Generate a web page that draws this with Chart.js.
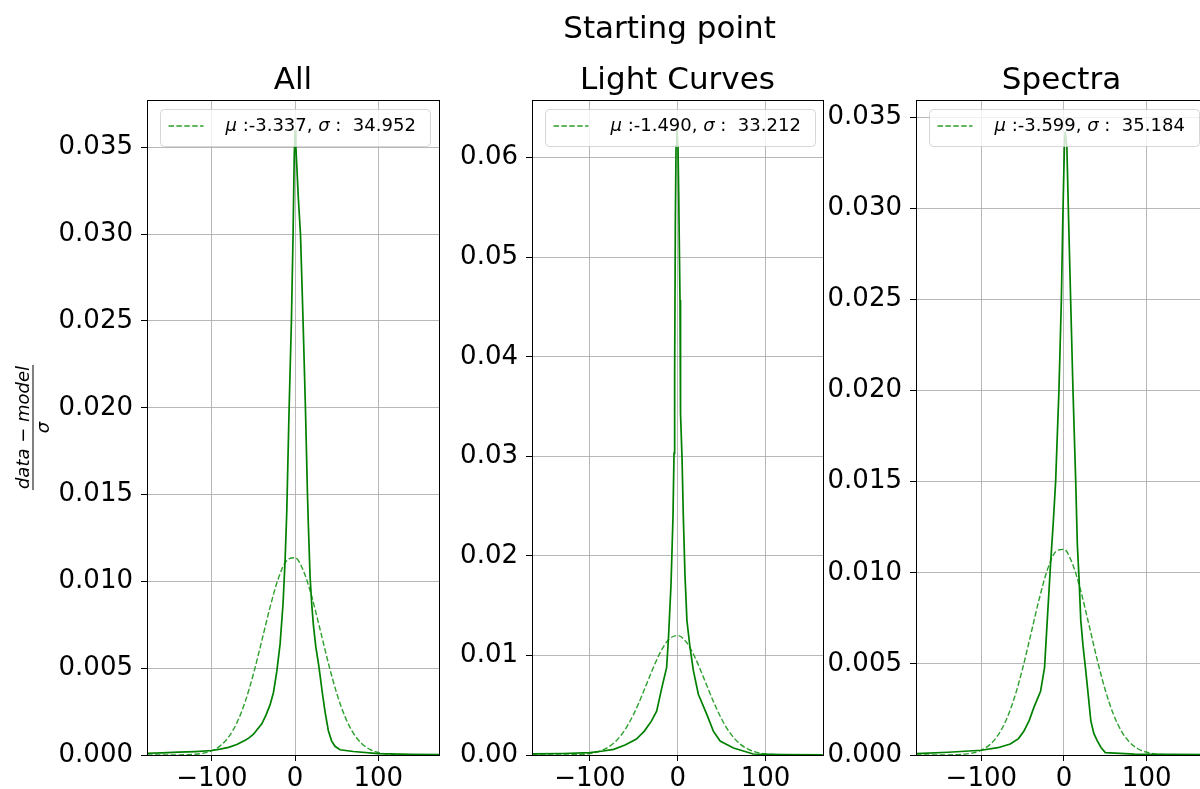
<!DOCTYPE html>
<html>
<head>
<meta charset="utf-8">
<title>Starting point</title>
<script src="https://cdn.jsdelivr.net/npm/chart.js@4.4.0/dist/chart.umd.min.js"></script>
<style>
    html, body { margin: 0; padding: 0; background: #fff; overflow: hidden; }
    #wrap { position: relative; width: 1200px; height: 789px; overflow: hidden; }
    #wrap canvas { position: absolute; left: 0; top: 0; }
</style>
</head>
<body>
<div id="wrap">
    <canvas id="panelAll" width="1220" height="789"></canvas>
    <canvas id="panelLc" width="1220" height="789"></canvas>
    <canvas id="panelSp" width="1220" height="789"></canvas>
</div>
<script>
const suptitle = 'Starting point';
const panelTitles = ['All', 'Light Curves', 'Spectra'];
const fitMu = [-3.337, -1.490, -3.599];
const fitSigma = [34.952, 33.212, 35.184];

const xTicks = [-100, 0, 100];
const yTicksAll = [0, 0.005, 0.010, 0.015, 0.020, 0.025, 0.030, 0.035];
const yTicksLc = [0, 0.01, 0.02, 0.03, 0.04, 0.05, 0.06];
const yTicksSp = [0, 0.005, 0.010, 0.015, 0.020, 0.025, 0.030, 0.035];

// residual histograms (density)
const histXAll = [-178, -160, -140, -120, -100, -90, -80, -70, -60, -55, -50, -45, -40, -35, -30, -26, -22, -18, -14.5, -12, -10, -7.2, -4.4, -2.4, -1, 0, 1, 2.5, 4, 6.5, 9.6, 12.5, 14.9, 16, 18, 20, 22, 25, 28, 30, 33, 36, 40, 44, 48, 54, 70, 100, 140, 173];
const histYAll = [0.0001, 0.00012, 0.00016, 0.0002, 0.00026, 0.00034, 0.00044, 0.0006, 0.00085, 0.001, 0.0012, 0.0015, 0.0018, 0.0023, 0.0029, 0.0036, 0.0048, 0.0064, 0.0087, 0.0112, 0.014, 0.0199, 0.025, 0.030, 0.0345, 0.036, 0.035, 0.0335, 0.032, 0.030, 0.025, 0.0199, 0.015, 0.0132, 0.0103, 0.0087, 0.0075, 0.0062, 0.0053, 0.0046, 0.0035, 0.0025, 0.0014, 0.0008, 0.0005, 0.0003, 0.0002, 0.00008, 0.00004, 0.00003];

const histXLc = [-166, -130, -100, -85, -73, -60, -47, -38, -30, -24, -18, -12.6, -10.5, -7.6, -5.4, -4.2, -3.5, -2.7, -1.9, -1, 0.3, 1.1, 2.6, 3.0, 3.4, 4.9, 6.4, 8.3, 10.5, 14, 17.8, 23.5, 33, 40.6, 48.3, 63.5, 86, 120, 165];
const histYLc = [0.00012, 0.00015, 0.00023, 0.0004, 0.00057, 0.001, 0.0016, 0.0024, 0.0034, 0.0044, 0.0068, 0.0088, 0.0118, 0.0172, 0.0239, 0.0303, 0.0384, 0.0535, 0.0612, 0.0628, 0.0612, 0.0565, 0.0457, 0.040, 0.0343, 0.0299, 0.0239, 0.018, 0.0135, 0.0108, 0.0085, 0.0061, 0.0041, 0.0024, 0.0014, 0.0007, 0.0001, 0.00004, 0.00002];

const histXSp = [-179, -140, -100, -80, -65, -55, -48.6, -42, -36.5, -28.3, -23.5, -20.2, -16.2, -12.9, -10.1, -6.1, -3.2, -1.2, 0.5, 1.5, 3.5, 5.3, 8.1, 10.9, 14.2, 16.2, 18.2, 20.3, 23, 26.4, 30, 32.4, 36, 40, 45, 50, 85, 173];
const histYSp = [0.00007, 0.00015, 0.00026, 0.0004, 0.0006, 0.0009, 0.0013, 0.0019, 0.0026, 0.0035, 0.0048, 0.0074, 0.0105, 0.0128, 0.015, 0.02, 0.0249, 0.0299, 0.0334, 0.0342, 0.0334, 0.0299, 0.0249, 0.02, 0.015, 0.0115, 0.0097, 0.0074, 0.006, 0.0046, 0.003, 0.0019, 0.0012, 0.0008, 0.0004, 0.00013, 0.00005, 0.00002];

// fitted normal curves (dashed)
const fitXAll = [-178, -170, -160, -150, -140, -130, -120, -110, -100, -90, -80, -70, -60, -50, -40, -30, -20, -10, 0, 10, 20, 30, 40, 50, 60, 70, 80, 90, 100, 110, 120, 130, 140, 150, 160, 170, 173];
const fitYAll = [0, 0, 0.0000005, 0.0000017, 0.0000055, 0.000016, 0.000043, 0.000108, 0.000249, 0.000528, 0.00103, 0.001851, 0.003067, 0.004682, 0.006584, 0.008532, 0.010188, 0.011209, 0.011362, 0.010613, 0.009134, 0.007242, 0.005291, 0.003563, 0.00221, 0.001263, 0.000665, 0.000323, 0.000144, 0.000059, 0.000023, 0.000008, 0.0000025, 0.0000007, 0.0000002, 0, 0];

const fitXLc = [-166, -160, -150, -140, -130, -120, -110, -100, -90, -80, -70, -60, -50, -40, -30, -20, -10, 0, 10, 20, 30, 40, 50, 60, 70, 80, 90, 100, 110, 120, 130, 140, 150, 160, 165];
const fitYLc = [0, 0.00000014, 0.00000055, 0.000002, 0.0000067, 0.000021, 0.000058, 0.0001475, 0.000345, 0.000735, 0.001431, 0.002545, 0.004134, 0.006133, 0.00831, 0.010285, 0.011624, 0.012, 0.011314, 0.009743, 0.007664, 0.005505, 0.003612, 0.002164, 0.001184, 0.000592, 0.00027, 0.000113, 0.000043, 0.000015, 0.0000047, 0.0000014, 0.0000004, 0.0000001, 0];

const fitXSp = [-179, -170, -160, -150, -140, -130, -120, -110, -100, -90, -80, -70, -60, -50, -40, -30, -20, -10, 0, 10, 20, 30, 40, 50, 60, 70, 80, 90, 100, 110, 120, 130, 140, 150, 160, 170, 173];
const fitYSp = [0, 0.00000016, 0.00000058, 0.000002, 0.0000062, 0.0000179, 0.000048, 0.000117, 0.000266, 0.000556, 0.001073, 0.001911, 0.003137, 0.004752, 0.00664, 0.008556, 0.010172, 0.011153, 0.01128, 0.010523, 0.009055, 0.007187, 0.005261, 0.003553, 0.002213, 0.001272, 0.000674, 0.00033, 0.000149, 0.000062, 0.000024, 0.0000084, 0.0000027, 0.0000008, 0.0000002, 0, 0];

// layout
const CANVAS_W = 1220;
const CANVAS_H = 789;
const Y_AXIS_W = 100;
const FONT = 'DejaVu Sans';
const HIST_COLOR = '#008000';
const FIT_COLOR = '#2ca02c';
const FIT_DASH = [5.5, 2.4];

Chart.defaults.font.family = FONT;

function zip(xs, ys) {
    return xs.map((x, i) => ({ x: x, y: ys[i] }));
}

function roundedRect(ctx, x, y, w, h, r) {
    ctx.beginPath();
    ctx.moveTo(x + r, y);
    ctx.lineTo(x + w - r, y);
    ctx.arcTo(x + w, y, x + w, y + r, r);
    ctx.lineTo(x + w, y + h - r);
    ctx.arcTo(x + w, y + h, x + w - r, y + h, r);
    ctx.lineTo(x + r, y + h);
    ctx.arcTo(x, y + h, x, y + h - r, r);
    ctx.lineTo(x, y + r);
    ctx.arcTo(x, y, x + r, y, r);
    ctx.closePath();
}

// draws text pieces one after another, italic where asked
function drawPieces(ctx, pieces, x, y, size) {
    pieces.forEach(p => {
        ctx.font = (p.italic ? 'italic ' : '') + size + 'px ' + FONT;
        ctx.fillText(p.t, x, y);
        x += ctx.measureText(p.t).width;
    });
    return x;
}

function piecesWidth(ctx, pieces, size) {
    let w = 0;
    pieces.forEach(p => {
        ctx.font = (p.italic ? 'italic ' : '') + size + 'px ' + FONT;
        w += ctx.measureText(p.t).width;
    });
    return w;
}

function decorPlugin(panel) {
    return {
        id: 'decor' + panel.index,
        afterDatasetsDraw(chart) {
            const ctx = chart.ctx;
            const a = chart.chartArea;
            ctx.save();

            // frame
            ctx.strokeStyle = '#000';
            ctx.lineWidth = 1;
            const l = Math.round(a.left) + 0.5, t = Math.round(a.top) + 0.5;
            ctx.strokeRect(l, t, Math.round(a.right) - Math.round(a.left), Math.round(a.bottom) - Math.round(a.top));

            // legend box
            const bx = Math.round(a.left) + 13.5, by = Math.round(a.top) + 9.5;
            roundedRect(ctx, bx, by, 270, 37, 4);
            ctx.fillStyle = 'rgba(255,255,255,0.8)';
            ctx.fill();
            ctx.strokeStyle = 'rgba(204,204,204,0.8)';
            ctx.stroke();

            const cy = by + 16.5;
            ctx.strokeStyle = FIT_COLOR;
            ctx.lineWidth = 1.4;
            ctx.setLineDash(FIT_DASH);
            ctx.beginPath();
            ctx.moveTo(bx + 8, cy);
            ctx.lineTo(bx + 43, cy);
            ctx.stroke();
            ctx.setLineDash([]);

            const mu = fitMu[panel.index].toFixed(3);
            const sig = fitSigma[panel.index].toFixed(3);
            ctx.fillStyle = '#000';
            ctx.textBaseline = 'middle';
            ctx.textAlign = 'left';
            drawPieces(ctx, [
                { t: '\u03bc', italic: true },
                { t: ' :' + mu + ', ' },
                { t: '\u03c3', italic: true },
                { t: ' :  ' + sig }
            ], bx + 65, cy, 18);

            // subplot title
            ctx.font = '31px ' + FONT;
            ctx.textAlign = 'center';
            ctx.textBaseline = 'alphabetic';
            ctx.fillText(panelTitles[panel.index], (a.left + a.right) / 2, 89);

            if (panel.index === 0) {
                ctx.fillText(suptitle, 669.5, 38);
                drawYLabel(ctx, 32.5, (a.top + a.bottom) / 2);
            }
            ctx.restore();
        }
    };
}

// (data - model) / sigma written as a fraction, rotated
function drawYLabel(ctx, cx, cy) {
    ctx.save();
    ctx.translate(cx, cy);
    ctx.rotate(-Math.PI / 2);
    ctx.fillStyle = '#000';
    const num = [
        { t: 'data', italic: true },
        { t: ' \u2212 ' },
        { t: 'model', italic: true }
    ];
    const size = 18;
    const w = piecesWidth(ctx, num, size);
    ctx.textAlign = 'left';
    ctx.textBaseline = 'alphabetic';
    drawPieces(ctx, num, -w / 2, -3.5, size);
    ctx.strokeStyle = '#000';
    ctx.lineWidth = 1;
    ctx.beginPath();
    ctx.moveTo(-w / 2 - 1, 0.5);
    ctx.lineTo(w / 2 + 1, 0.5);
    ctx.stroke();
    ctx.font = 'italic ' + size + 'px ' + FONT;
    ctx.textAlign = 'center';
    ctx.textBaseline = 'top';
    ctx.fillText('\u03c3', 0, 3);
    ctx.restore();
}

function makePanel(canvasId, panel) {
    const ctx = document.getElementById(canvasId).getContext('2d');
    const tickFont = { family: FONT, size: 26 };
    const grid = {
        color: '#b0b0b0',
        lineWidth: 0.9,
        drawTicks: true,
        tickColor: '#000',
        tickLength: 6,
        tickWidth: 1
    };
    return new Chart(ctx, {
        type: 'line',
        data: {
            datasets: [{
                data: zip(panel.histX, panel.histY),
                borderColor: HIST_COLOR,
                borderWidth: 1.7,
                pointRadius: 0,
                tension: 0
            }, {
                data: zip(panel.fitX, panel.fitY),
                borderColor: FIT_COLOR,
                borderWidth: 1.4,
                borderDash: FIT_DASH,
                pointRadius: 0,
                cubicInterpolationMode: 'monotone'
            }]
        },
        options: {
            responsive: false,
            animation: false,
            events: [],
            layout: {
                padding: {
                    left: panel.box.left - Y_AXIS_W,
                    right: CANVAS_W - panel.box.right,
                    top: panel.box.top,
                    bottom: 0
                }
            },
            plugins: {
                legend: { display: false },
                tooltip: { enabled: false }
            },
            scales: {
                x: {
                    type: 'linear',
                    min: panel.xMin,
                    max: panel.xMax,
                    afterBuildTicks: s => { s.ticks = xTicks.map(v => ({ value: v })); },
                    afterFit: s => { s.height = CANVAS_H - panel.box.bottom; },
                    ticks: {
                        font: tickFont,
                        color: '#000',
                        padding: 3,
                        maxRotation: 0,
                        callback: v => String(v).replace('-', '\u2212')
                    },
                    grid: grid,
                    border: { display: true, color: '#000', width: 1 }
                },
                y: {
                    type: 'linear',
                    min: 0,
                    max: panel.yMax,
                    afterBuildTicks: s => { s.ticks = panel.yTicks.map(v => ({ value: v })); },
                    afterFit: s => { s.width = Y_AXIS_W; },
                    ticks: {
                        font: tickFont,
                        color: '#000',
                        padding: 8,
                        callback: v => v.toFixed(panel.yDecimals)
                    },
                    grid: grid,
                    border: { display: true, color: '#000', width: 1 }
                }
            }
        },
        plugins: [decorPlugin(panel)]
    });
}

makePanel('panelAll', {
    index: 0,
    box: { left: 147, right: 439, top: 100, bottom: 755 },
    xMin: -178, xMax: 173, yMax: 0.03773,
    yTicks: yTicksAll, yDecimals: 3,
    histX: histXAll, histY: histYAll, fitX: fitXAll, fitY: fitYAll
});

makePanel('panelLc', {
    index: 1,
    box: { left: 532, right: 823, top: 100, bottom: 755 },
    xMin: -166, xMax: 165.5, yMax: 0.0658,
    yTicks: yTicksLc, yDecimals: 2,
    histX: histXLc, histY: histYLc, fitX: fitXLc, fitY: fitYLc
});

makePanel('panelSp', {
    index: 2,
    box: { left: 916, right: 1207, top: 100, bottom: 755 },
    xMin: -179, xMax: 173, yMax: 0.03594,
    yTicks: yTicksSp, yDecimals: 3,
    histX: histXSp, histY: histYSp, fitX: fitXSp, fitY: fitYSp
});
</script>
</body>
</html>
